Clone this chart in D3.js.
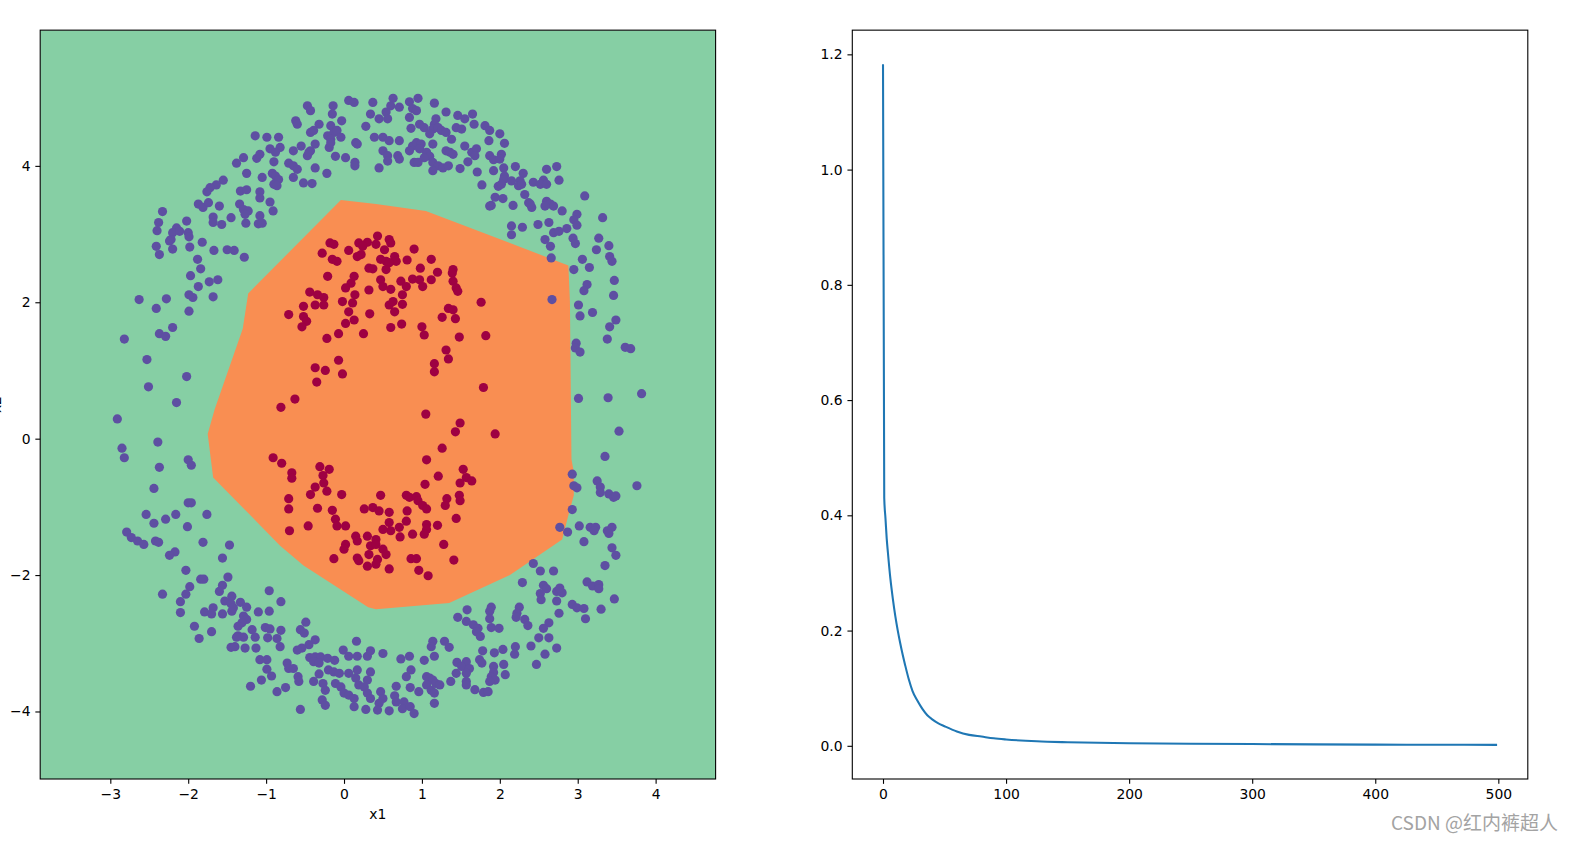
<!DOCTYPE html>
<html><head><meta charset="utf-8">
<script src="https://cdn.jsdelivr.net/npm/d3@7"></script>
<style>
body{margin:0;background:#fff}
svg{display:block}
text{font-family:"DejaVu Sans",sans-serif}
</style>
</head><body>
<svg id="c" width="1576" height="841"></svg>
<script>
// ---- data ----
const purplePoints = [
[-0.47,4.88],[-0.43,4.81],[0.06,4.96],[0.13,4.93],[-0.14,4.88],[-0.15,4.76],[0.37,4.93],[0.34,4.76],[-0.62,4.66],[-0.60,4.61],
[-0.32,4.61],[-0.03,4.66],[-0.43,4.49],[-0.39,4.52],[-0.17,4.59],[-0.13,4.49],[-0.21,4.44],[-0.09,4.52],[-0.17,4.39],[-0.04,4.42],
[0.28,4.58],[0.15,4.34],[0.17,4.32],[0.39,4.42],[-1.14,4.44],[-0.99,4.42],[-0.84,4.42],[-0.82,4.27],[-0.95,4.25],[-0.88,4.20],
[-0.55,4.29],[-0.65,4.22],[-0.37,4.32],[-0.43,4.22],[-0.47,4.15],[-0.45,4.20],[-0.19,4.27],[-0.17,4.34],[-0.11,4.14],[0.02,4.12],
[0.14,4.05],[0.14,4.00],[-1.29,4.12],[-1.38,4.04],[-1.12,4.11],[-1.08,4.17],[-0.90,4.06],[-0.71,4.04],[-0.65,4.00],[-0.60,3.95],
[-0.37,3.97],[-0.22,3.89],[-1.25,3.89],[-1.05,3.83],[-0.92,3.89],[-0.88,3.85],[-0.84,3.80],[-0.90,3.73],[-0.86,3.71],[-0.65,3.83],
[-0.52,3.75],[-0.41,3.74],[-1.55,3.79],[-1.64,3.72],[-1.72,3.68],[-1.76,3.62],[-1.33,3.63],[-1.25,3.65],[-1.08,3.62],[-1.08,3.53],
[-0.95,3.47],[-0.91,3.34],[-1.87,3.44],[-1.81,3.39],[-1.74,3.46],[-1.60,3.41],[-1.34,3.44],[-1.29,3.36],[-1.23,3.34],[-1.27,3.29],
[-1.08,3.27],[-1.10,3.15],[-1.05,3.16],[-1.45,3.24],[-1.68,3.25],[-1.68,3.17],[-1.57,3.14],[-1.26,3.16],[-2.33,3.33],[-2.38,3.17],
[-2.40,3.05],[-2.02,3.19],[-2.15,3.09],[-2.20,3.02],[-2.11,3.04],[-2.22,2.92],[-2.24,2.90],[-2.00,3.02],[-1.99,2.96],[-2.41,2.82],
[-2.37,2.70],[-2.20,2.78],[-1.98,2.81],[-1.82,2.88],[-1.67,2.76],[-1.50,2.77],[-1.41,2.76],[-1.28,2.66],[-1.88,2.63],[-1.84,2.49],
[-1.97,2.39],[-1.73,2.30],[-1.62,2.33],[-1.87,2.23],[-1.99,2.11],[-1.94,2.07],[-1.68,2.08],[-2.63,2.04],[-2.28,2.05],
[0.63,4.99],[0.60,4.88],[0.54,4.79],[0.45,4.69],[0.56,4.69],[0.84,4.94],[0.95,4.99],[1.16,4.92],[0.71,4.86],[0.88,4.84],
[0.93,4.81],[0.84,4.71],[1.31,4.79],[1.46,4.74],[1.55,4.69],[1.65,4.76],[0.97,4.61],[1.03,4.56],[0.86,4.55],[1.18,4.69],
[1.16,4.61],[1.14,4.54],[1.10,4.47],[1.21,4.56],[1.25,4.52],[1.44,4.56],[1.51,4.54],[1.31,4.49],[1.38,4.39],[1.67,4.61],
[1.81,4.59],[1.87,4.52],[2.00,4.47],[0.50,4.42],[0.58,4.37],[0.71,4.37],[0.88,4.29],[0.93,4.34],[0.99,4.32],[0.97,4.25],
[0.84,4.22],[1.14,4.32],[1.55,4.29],[1.86,4.37],[2.06,4.33],[0.50,4.22],[0.56,4.15],[0.69,4.15],[0.56,4.07],[0.71,4.10],
[1.06,4.20],[1.10,4.14],[1.03,4.12],[1.31,4.22],[1.36,4.20],[1.40,4.17],[1.64,4.20],[1.70,4.25],[1.68,4.15],[1.87,4.15],
[2.02,4.17],[1.92,4.09],[2.00,4.10],[0.90,4.05],[0.95,4.05],[1.14,4.05],[1.21,4.00],[1.14,3.93],[1.27,3.97],[1.34,4.00],
[1.49,3.96],[1.59,4.06],[1.71,3.91],[1.92,3.93],[2.05,3.97],[2.06,3.85],[0.45,3.97],[2.20,3.99],[2.30,3.89],[2.60,3.95],
[2.73,3.99],[2.76,3.79],[2.05,3.80],[2.15,3.78],[2.26,3.78],[2.24,3.71],[2.28,3.73],[2.43,3.76],[2.56,3.79],[2.52,3.73],
[2.60,3.73],[1.77,3.72],[1.98,3.70],[2.02,3.73],[2.32,3.58],[1.94,3.54],[2.04,3.52],[1.89,3.42],[1.87,3.41],[2.17,3.42],
[2.37,3.46],[2.41,3.39],[2.39,3.44],[2.60,3.48],[2.65,3.44],[2.69,3.41],[2.58,3.41],[2.80,3.34],[3.09,3.56],[2.99,3.29],
[2.95,3.21],[2.99,3.13],[3.32,3.24],[2.15,3.12],[2.15,2.99],[2.29,3.10],[2.49,3.14],[2.63,3.17],[2.69,3.02],[2.76,3.04],
[2.86,3.08],[2.58,2.92],[2.65,2.82],[2.94,2.94],[2.97,2.86],[3.27,2.94],[3.24,2.77],[3.40,2.83],[2.66,2.65],[3.06,2.63],
[3.41,2.67],[3.44,2.60],[3.15,2.51],[2.95,2.48],[3.47,2.32],[3.12,2.26],[3.08,2.17],[3.46,2.10],[2.67,2.04],
[-2.41,1.91],[-1.99,1.87],[-2.82,1.46],[-2.20,1.63],[-2.37,1.54],[-2.29,1.50],[-2.53,1.16],[-2.51,0.76],[-2.02,0.91],[-2.15,0.53],
[-2.91,0.29],[-2.39,-0.05],[-2.85,-0.14],[-2.82,-0.28],[-2.37,-0.42],[-2.00,-0.31],[-1.96,-0.39],[-2.44,-0.73],[-2.00,-0.94],[-1.96,-0.94],
[3.01,1.96],[3.03,1.80],[3.19,1.85],[3.49,1.74],[3.41,1.64],[3.38,1.46],[2.98,1.40],[2.97,1.33],[3.03,1.27],[3.61,1.34],
[3.68,1.32],[3.01,0.59],[3.39,0.60],[3.82,0.66],[3.53,0.11],[3.35,-0.26],[2.93,-0.52],[2.95,-0.69],[2.99,-0.72],[3.25,-0.62],
[3.29,-0.71],[3.29,-0.79],[3.40,-0.81],[3.46,-0.86],[3.49,-0.84],[3.76,-0.69],[2.93,-1.04],
[-2.54,-1.11],[-2.44,-1.24],[-2.29,-1.18],[-2.16,-1.11],[-1.76,-1.11],[-2.01,-1.29],[-2.79,-1.37],[-2.73,-1.45],[-2.65,-1.50],[-2.57,-1.55],
[-2.42,-1.50],[-2.38,-1.52],[-1.81,-1.52],[-1.47,-1.56],[-2.17,-1.66],[-2.24,-1.71],[-1.56,-1.75],[-2.03,-1.93],[-1.49,-2.03],[-1.84,-2.06],
[-1.80,-2.06],[-1.98,-2.17],[-2.03,-2.28],[-2.10,-2.39],[-2.10,-2.55],[-2.33,-2.28],[-1.56,-2.15],[-1.60,-2.24],[-1.44,-2.31],[-1.53,-2.38],
[-1.45,-2.42],[-1.33,-2.40],[-1.25,-2.47],[-1.79,-2.54],[-1.68,-2.48],[-1.70,-2.57],[-1.56,-2.57],[-1.44,-2.53],[-1.42,-2.48],[-1.29,-2.60],
[-1.25,-2.65],[-1.31,-2.70],[-1.36,-2.75],[-0.96,-2.23],[-0.81,-2.39],[-1.10,-2.54],[-0.96,-2.53],[-1.92,-2.75],[-1.70,-2.83],[-1.86,-2.93],
[-1.18,-2.80],[-1.36,-2.89],[-1.29,-2.91],[-1.38,-2.91],[-1.14,-2.91],[-1.01,-2.77],[-0.95,-2.79],[-0.98,-2.92],[-0.81,-2.81],[-0.86,-2.93],
[-1.45,-3.06],[-1.40,-3.05],[-1.27,-3.07],[-1.13,-3.07],[-0.82,-3.05],[-0.49,-2.69],[-0.56,-2.80],[-0.51,-2.85],[-0.37,-2.95],[-0.45,-3.02],
[-0.54,-3.07],[-0.60,-3.10],[0.16,-2.97],[-1.08,-3.24],[-0.99,-3.24],[-0.73,-3.29],[-0.71,-3.37],[-0.65,-3.37],[-0.99,-3.38],[-0.93,-3.48],
[-0.59,-3.49],[-0.58,-3.56],[-1.06,-3.54],[-1.20,-3.63],[-0.86,-3.71],[-0.75,-3.65],[-0.44,-3.21],[-0.37,-3.20],[-0.30,-3.20],[-0.21,-3.22],
[-0.12,-3.25],[-0.39,-3.27],[-0.32,-3.29],[-0.01,-3.10],[0.06,-3.19],[0.17,-3.19],[0.30,-3.19],[0.34,-3.11],[-0.32,-3.45],[-0.39,-3.56],
[-0.20,-3.39],[-0.13,-3.42],[-0.06,-3.44],[-0.27,-3.59],[-0.24,-3.69],[0.06,-3.44],[0.17,-3.39],[0.15,-3.51],[0.34,-3.42],[0.30,-3.54],
[0.19,-3.61],[-0.11,-3.59],[-0.04,-3.64],[0.00,-3.73],[0.06,-3.76],[0.13,-3.81],[0.26,-3.64],[0.30,-3.73],[0.34,-3.81],[-0.28,-3.83],
[-0.24,-3.91],[0.13,-3.93],[0.28,-3.97],[-0.56,-3.97],
[2.77,-1.30],[2.87,-1.37],[3.02,-1.28],[3.16,-1.30],[3.23,-1.30],[3.21,-1.35],[3.08,-1.51],[3.38,-1.35],[3.44,-1.30],[3.40,-1.39],
[3.44,-1.60],[3.49,-1.71],[3.35,-1.86],[2.43,-1.83],[2.52,-1.94],[2.69,-1.94],[2.29,-2.11],[2.56,-2.15],[2.60,-2.20],[2.52,-2.27],
[2.53,-2.36],[2.73,-2.24],[2.80,-2.26],[2.77,-2.19],[2.73,-2.38],[3.12,-2.10],[3.19,-2.16],[3.27,-2.14],[3.27,-2.20],[3.47,-2.35],
[2.93,-2.43],[2.99,-2.48],[3.08,-2.49],[3.10,-2.64],[3.30,-2.50],[2.76,-2.56],[1.58,-2.51],[1.46,-2.62],[1.57,-2.68],[1.66,-2.73],
[1.72,-2.78],[1.70,-2.83],[1.75,-2.90],[1.89,-2.47],[1.87,-2.53],[1.87,-2.64],[1.89,-2.77],[1.99,-2.78],[2.25,-2.47],[2.22,-2.56],
[2.21,-2.62],[2.32,-2.65],[2.36,-2.74],[2.63,-2.70],[2.56,-2.78],[2.50,-2.92],[2.63,-2.92],[2.40,-3.04],[2.73,-3.07],[2.58,-3.16],
[2.47,-3.31],[2.20,-3.05],[2.19,-3.16],[2.04,-3.09],[1.93,-3.14],[1.78,-3.11],[1.14,-2.97],[1.12,-3.05],[1.29,-2.97],[1.35,-3.06],
[1.16,-3.19],[0.50,-3.15],[0.73,-3.23],[0.84,-3.19],[1.03,-3.25],[1.45,-3.28],[1.57,-3.27],[1.51,-3.34],[1.61,-3.37],[1.44,-3.44],
[1.57,-3.44],[1.74,-3.24],[1.77,-3.29],[2.05,-3.31],[1.92,-3.34],[1.92,-3.43],[1.89,-3.49],[2.07,-3.46],[1.94,-3.54],[1.87,-3.56],
[0.86,-3.39],[0.80,-3.49],[1.06,-3.49],[1.10,-3.51],[1.14,-3.54],[1.18,-3.59],[1.23,-3.61],[1.06,-3.61],[1.12,-3.69],[1.16,-3.73],
[1.37,-3.56],[1.57,-3.56],[1.57,-3.61],[1.68,-3.68],[1.79,-3.72],[1.85,-3.71],[0.67,-3.63],[0.85,-3.65],[0.96,-3.71],[0.47,-3.71],
[0.50,-3.81],[0.45,-3.88],[0.43,-3.98],[0.65,-3.77],[0.67,-3.86],[0.77,-3.86],[0.75,-3.96],[0.58,-3.99],[0.85,-3.93],[0.90,-4.03],
[1.16,-3.88]
];
const redPoints = [
[-0.18,2.87],[-0.13,2.85],[-0.28,2.72],[0.06,2.76],[0.19,2.87],[0.30,2.88],[0.24,2.82],[0.17,2.67],[0.22,2.70],[-0.15,2.63],
[-0.09,2.60],[0.32,2.50],[0.37,2.49],[-0.21,2.38],[0.13,2.38],[0.09,2.28],[0.02,2.21],[0.32,2.18],[-0.44,2.15],[-0.34,2.11],
[-0.26,2.07],[0.14,2.11],[0.43,2.97],[0.41,2.85],[0.58,2.92],[0.60,2.87],[0.52,2.77],[0.90,2.78],[0.47,2.63],[0.54,2.60],
[0.65,2.67],[0.67,2.60],[0.58,2.58],[0.54,2.48],[0.81,2.62],[1.12,2.63],[0.98,2.50],[1.20,2.44],[1.40,2.48],[1.39,2.43],
[0.47,2.33],[0.50,2.23],[0.73,2.31],[0.80,2.23],[0.75,2.11],[0.60,2.19],[0.88,2.34],[0.97,2.33],[1.01,2.23],[1.12,2.33],
[1.40,2.31],[1.44,2.21],[1.46,2.16],[1.76,2.00],[-0.71,1.82],[-0.52,1.94],[-0.37,1.96],[-0.26,1.96],[-0.02,2.01],[0.11,1.99],
[-0.52,1.79],[-0.48,1.72],[-0.54,1.64],[0.06,1.86],[0.02,1.69],[0.13,1.74],[0.33,1.83],[-0.22,1.47],[-0.07,1.54],[0.25,1.54],
[-0.07,1.15],[-0.37,1.04],[-0.24,1.00],[-0.02,0.95],[-0.35,0.83],[-0.63,0.58],[-0.81,0.46],[-0.91,-0.28],[-0.80,-0.36],[-0.67,-0.50],
[-0.67,-0.58],[-0.31,-0.41],[-0.19,-0.45],[-0.27,-0.54],[-0.26,-0.65],[-0.37,-0.71],[-0.43,-0.82],[-0.22,-0.77],[-0.03,-0.82],[-0.71,-0.88],
[-0.71,-1.03],[-0.34,-1.02],[-0.15,-1.05],[0.26,-1.03],[0.37,-1.01],[0.58,1.96],[0.63,2.01],[0.75,1.97],[0.65,1.86],[0.60,1.63],
[0.74,1.68],[1.34,1.91],[1.40,1.89],[1.26,1.78],[1.43,1.76],[1.00,1.64],[1.03,1.52],[1.48,1.49],[1.82,1.51],[1.31,1.30],
[1.34,1.17],[1.16,1.10],[1.16,0.98],[1.79,0.75],[1.05,0.36],[1.49,0.23],[1.43,0.10],[1.94,0.07],[1.26,-0.14],[1.06,-0.31],
[1.53,-0.45],[1.57,-0.57],[1.64,-0.62],[1.49,-0.65],[1.21,-0.55],[1.04,-0.67],[0.47,-0.83],[0.80,-0.83],[0.84,-0.86],[0.93,-0.85],
[0.95,-0.91],[1.01,-0.98],[1.06,-1.03],[1.32,-0.88],[1.30,-0.98],[1.48,-0.83],[1.49,-0.91],[0.81,-1.06],[0.58,-1.08],[0.45,-1.06],
[-0.46,-1.28],[-0.70,-1.35],[-0.11,-1.18],[-0.09,-1.28],[0.02,-1.28],[0.15,-1.43],[0.17,-1.50],[0.02,-1.55],[0.00,-1.62],[-0.13,-1.76],
[0.30,-1.43],[0.34,-1.57],[0.32,-1.70],[0.17,-1.75],[0.19,-1.79],[0.30,-1.87],[0.58,-1.23],[0.80,-1.21],[0.71,-1.30],[0.60,-1.35],
[0.50,-1.33],[1.06,-1.26],[1.06,-1.33],[1.03,-1.40],[1.20,-1.27],[1.44,-1.17],[0.72,-1.44],[0.88,-1.40],[0.41,-1.48],[0.41,-1.55],
[0.50,-1.62],[0.54,-1.70],[0.43,-1.77],[0.41,-1.84],[0.58,-1.91],[1.28,-1.55],[0.86,-1.76],[0.93,-1.76],[1.41,-1.78],[0.96,-1.93],
[1.08,-2.01]
];
// outline of the region predicted as the inner class
const regionBoundary = [
[-0.04,3.50],[0.41,3.44],[1.05,3.34],[2.88,2.54],[2.90,2.01],[2.92,-0.30],[2.95,-0.49],[2.95,-0.83],[2.89,-1.08],[2.80,-1.48],
[2.13,-2.00],[1.35,-2.41],[0.41,-2.50],[0.31,-2.47],[-0.52,-1.86],[-0.82,-1.57],[-1.24,-1.08],[-1.68,-0.57],[-1.75,0.07],[-1.66,0.43],
[-1.30,1.61],[-1.23,2.13]
];
const xTicksLeft = [-3,-2,-1,0,1,2,3,4];
const yTicksLeft = [-4,-2,0,2,4];
const lossIter  = [0,1,2,3,4,6,8,10,12,14,16,18,21,24,28,32,36,40,45,50,60,70,80,90,100,125,150,200,250,300,350,400,450,499];
const lossValue = [1.183,0.43,0.395,0.36,0.335,0.29,0.255,0.225,0.2,0.178,0.158,0.14,0.115,0.095,0.078,0.064,0.053,0.046,0.039,0.034,0.025,0.019,0.016,0.013,0.011,0.0078,0.0062,0.0045,0.0036,0.003,0.0025,0.0021,0.0018,0.0016];
const xTicksRight = [0,100,200,300,400,500];
const yTicksRight = [0,0.2,0.4,0.6,0.8,1.0,1.2];

// ---- drawing ----
const svg = d3.select("#c");
const FS = 13.9, TL = 4.86, TP = 4.86;
const colors = {bg:"#86cfa4", region:"#f98e52", purple:"#5e4fa2", red:"#9e0142", line:"#1f77b4"};

const L = {x0:40.2, x1:715.6, y0:30.15, y1:779};
const xL = d3.scaleLinear().domain([-3.90, 4.77]).range([L.x0, L.x1]);
const yL = d3.scaleLinear().domain([-4.99, 5.99]).range([L.y1, L.y0]);

svg.append("clipPath").attr("id","clipL").append("rect")
  .attr("x",L.x0).attr("y",L.y0).attr("width",L.x1-L.x0).attr("height",L.y1-L.y0);
const gL = svg.append("g").attr("clip-path","url(#clipL)");
gL.append("rect").attr("x",L.x0).attr("y",L.y0).attr("width",L.x1-L.x0).attr("height",L.y1-L.y0).attr("fill",colors.bg);
gL.append("path")
  .attr("d", d3.line().x(d=>xL(d[0])).y(d=>yL(d[1]))(regionBoundary) + "Z")
  .attr("fill", colors.region);
gL.selectAll("circle.p").data(purplePoints).join("circle").attr("class","p")
  .attr("cx",d=>xL(d[0])).attr("cy",d=>yL(d[1])).attr("r",4.6).attr("fill",colors.purple);
gL.selectAll("circle.r").data(redPoints).join("circle").attr("class","r")
  .attr("cx",d=>xL(d[0])).attr("cy",d=>yL(d[1])).attr("r",4.6).attr("fill",colors.red);

function styleAxis(g){
  g.select(".domain").remove();
  g.selectAll(".tick line").attr("stroke","#000").attr("stroke-width",1.1);
  g.selectAll(".tick text").attr("fill","#000").style("font-size",FS+"px").style("font-family","DejaVu Sans");
}
svg.append("g").attr("transform",`translate(0,${L.y1})`)
  .call(d3.axisBottom(xL).tickValues(xTicksLeft).tickSize(TL).tickPadding(TP).tickFormat(d3.format("d")))
  .call(styleAxis);
svg.append("g").attr("transform",`translate(${L.x0},0)`)
  .call(d3.axisLeft(yL).tickValues(yTicksLeft).tickSize(TL).tickPadding(TP).tickFormat(d3.format("d")))
  .call(styleAxis);
svg.append("rect").attr("x",L.x0).attr("y",L.y0).attr("width",L.x1-L.x0).attr("height",L.y1-L.y0)
  .attr("fill","none").attr("stroke","#000").attr("stroke-width",1.1);
svg.append("text").attr("x",(L.x0+L.x1)/2).attr("y",819).attr("text-anchor","middle")
  .style("font-size",FS+"px").text("x1");
svg.append("text").attr("transform",`translate(1,${(L.y0+L.y1)/2}) rotate(-90)`).attr("text-anchor","middle")
  .style("font-size",FS+"px").text("x2");

// right panel
const R = {x0:852.3, x1:1527.8, y0:30.15, y1:779};
const xR = d3.scaleLinear().domain([-24.95, 523.95]).range([R.x0, R.x1]);
const yR = d3.scaleLinear().domain([-0.0576, 1.242]).range([R.y1, R.y0]);
svg.append("path")
  .attr("d", d3.line().x((d,i)=>xR(lossIter[i])).y(d=>yR(d)).curve(d3.curveMonotoneX)(lossValue))
  .attr("fill","none").attr("stroke",colors.line).attr("stroke-width",2.08);
svg.append("g").attr("transform",`translate(0,${R.y1})`)
  .call(d3.axisBottom(xR).tickValues(xTicksRight).tickSize(TL).tickPadding(TP).tickFormat(d3.format("d")))
  .call(styleAxis);
svg.append("g").attr("transform",`translate(${R.x0},0)`)
  .call(d3.axisLeft(yR).tickValues(yTicksRight).tickSize(TL).tickPadding(TP).tickFormat(d3.format(".1f")))
  .call(styleAxis);
svg.append("rect").attr("x",R.x0).attr("y",R.y0).attr("width",R.x1-R.x0).attr("height",R.y1-R.y0)
  .attr("fill","none").attr("stroke","#000").attr("stroke-width",1.1);

// watermark
svg.append("text").attr("x",1391).attr("y",830)
  .style("font-family","'Noto Sans CJK SC','Noto Sans',sans-serif").style("font-size","19px")
  .attr("fill","#a3a3a3").text("CSDN @红内裤超人");
</script>
</body></html>
